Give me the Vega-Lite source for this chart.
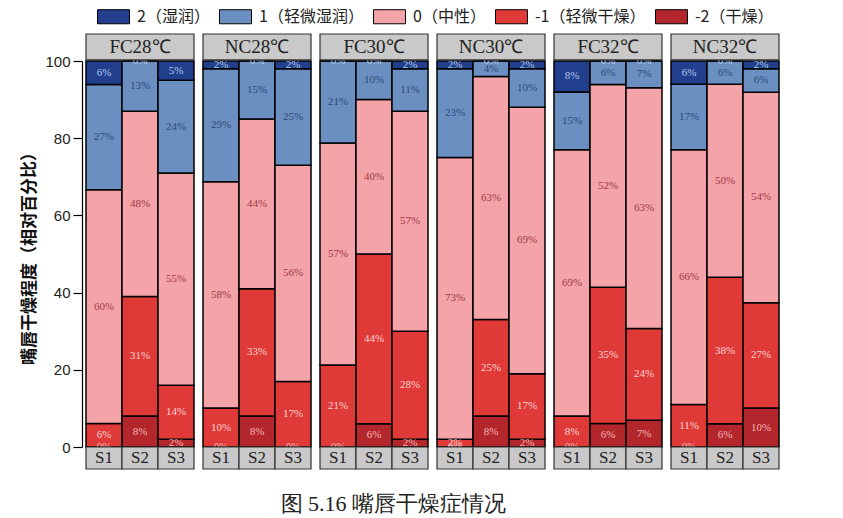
{
  "$schema": "https://vega.github.io/schema/vega-lite/v6.json",
  "description": "Lip dryness scores by group and stage, stacked percentage bars.",
  "padding": {"left": 20, "top": 0, "right": 5, "bottom": 5},
  "title": {
    "text": "图 5.16 嘴唇干燥症情况",
    "orient": "bottom",
    "anchor": "middle",
    "dx": -7,
    "offset": 24,
    "font": "Liberation Serif",
    "fontSize": 22,
    "fontWeight": "normal",
    "color": "#222"
  },
  "datasets": {
    "levels": [
      {"lv": 2, "name": "2（湿润）"},
      {"lv": 1, "name": "1（轻微湿润）"},
      {"lv": 0, "name": "0（中性）"},
      {"lv": -1, "name": "-1（轻微干燥）"},
      {"lv": -2, "name": "-2（干燥）"}
    ]
  },
  "data": {
    "values": [
      {"g": "FC28℃", "s": "S1", "lv": -2, "p": 0},
      {"g": "FC28℃", "s": "S1", "lv": -1, "p": 0.06},
      {"g": "FC28℃", "s": "S1", "lv": 0, "p": 0.60},
      {"g": "FC28℃", "s": "S1", "lv": 1, "p": 0.27},
      {"g": "FC28℃", "s": "S1", "lv": 2, "p": 0.06},
      {"g": "FC28℃", "s": "S2", "lv": -2, "p": 0.08},
      {"g": "FC28℃", "s": "S2", "lv": -1, "p": 0.31},
      {"g": "FC28℃", "s": "S2", "lv": 0, "p": 0.48},
      {"g": "FC28℃", "s": "S2", "lv": 1, "p": 0.13},
      {"g": "FC28℃", "s": "S2", "lv": 2, "p": 0},
      {"g": "FC28℃", "s": "S3", "lv": -2, "p": 0.02},
      {"g": "FC28℃", "s": "S3", "lv": -1, "p": 0.14},
      {"g": "FC28℃", "s": "S3", "lv": 0, "p": 0.55},
      {"g": "FC28℃", "s": "S3", "lv": 1, "p": 0.24},
      {"g": "FC28℃", "s": "S3", "lv": 2, "p": 0.05},
      {"g": "NC28℃", "s": "S1", "lv": -2, "p": 0},
      {"g": "NC28℃", "s": "S1", "lv": -1, "p": 0.10},
      {"g": "NC28℃", "s": "S1", "lv": 0, "p": 0.58},
      {"g": "NC28℃", "s": "S1", "lv": 1, "p": 0.29},
      {"g": "NC28℃", "s": "S1", "lv": 2, "p": 0.02},
      {"g": "NC28℃", "s": "S2", "lv": -2, "p": 0.08},
      {"g": "NC28℃", "s": "S2", "lv": -1, "p": 0.33},
      {"g": "NC28℃", "s": "S2", "lv": 0, "p": 0.44},
      {"g": "NC28℃", "s": "S2", "lv": 1, "p": 0.15},
      {"g": "NC28℃", "s": "S2", "lv": 2, "p": 0},
      {"g": "NC28℃", "s": "S3", "lv": -2, "p": 0},
      {"g": "NC28℃", "s": "S3", "lv": -1, "p": 0.17},
      {"g": "NC28℃", "s": "S3", "lv": 0, "p": 0.56},
      {"g": "NC28℃", "s": "S3", "lv": 1, "p": 0.25},
      {"g": "NC28℃", "s": "S3", "lv": 2, "p": 0.02},
      {"g": "FC30℃", "s": "S1", "lv": -2, "p": 0},
      {"g": "FC30℃", "s": "S1", "lv": -1, "p": 0.21},
      {"g": "FC30℃", "s": "S1", "lv": 0, "p": 0.57},
      {"g": "FC30℃", "s": "S1", "lv": 1, "p": 0.21},
      {"g": "FC30℃", "s": "S1", "lv": 2, "p": 0},
      {"g": "FC30℃", "s": "S2", "lv": -2, "p": 0.06},
      {"g": "FC30℃", "s": "S2", "lv": -1, "p": 0.44},
      {"g": "FC30℃", "s": "S2", "lv": 0, "p": 0.40},
      {"g": "FC30℃", "s": "S2", "lv": 1, "p": 0.10},
      {"g": "FC30℃", "s": "S2", "lv": 2, "p": 0},
      {"g": "FC30℃", "s": "S3", "lv": -2, "p": 0.02},
      {"g": "FC30℃", "s": "S3", "lv": -1, "p": 0.28},
      {"g": "FC30℃", "s": "S3", "lv": 0, "p": 0.57},
      {"g": "FC30℃", "s": "S3", "lv": 1, "p": 0.11},
      {"g": "FC30℃", "s": "S3", "lv": 2, "p": 0.02},
      {"g": "NC30℃", "s": "S1", "lv": -2, "p": 0},
      {"g": "NC30℃", "s": "S1", "lv": -1, "p": 0.02},
      {"g": "NC30℃", "s": "S1", "lv": 0, "p": 0.73},
      {"g": "NC30℃", "s": "S1", "lv": 1, "p": 0.23},
      {"g": "NC30℃", "s": "S1", "lv": 2, "p": 0.02},
      {"g": "NC30℃", "s": "S2", "lv": -2, "p": 0.08},
      {"g": "NC30℃", "s": "S2", "lv": -1, "p": 0.25},
      {"g": "NC30℃", "s": "S2", "lv": 0, "p": 0.63},
      {"g": "NC30℃", "s": "S2", "lv": 1, "p": 0.04},
      {"g": "NC30℃", "s": "S2", "lv": 2, "p": 0},
      {"g": "NC30℃", "s": "S3", "lv": -2, "p": 0.02},
      {"g": "NC30℃", "s": "S3", "lv": -1, "p": 0.17},
      {"g": "NC30℃", "s": "S3", "lv": 0, "p": 0.69},
      {"g": "NC30℃", "s": "S3", "lv": 1, "p": 0.10},
      {"g": "NC30℃", "s": "S3", "lv": 2, "p": 0.02},
      {"g": "FC32℃", "s": "S1", "lv": -2, "p": 0},
      {"g": "FC32℃", "s": "S1", "lv": -1, "p": 0.08},
      {"g": "FC32℃", "s": "S1", "lv": 0, "p": 0.69},
      {"g": "FC32℃", "s": "S1", "lv": 1, "p": 0.15},
      {"g": "FC32℃", "s": "S1", "lv": 2, "p": 0.08},
      {"g": "FC32℃", "s": "S2", "lv": -2, "p": 0.06},
      {"g": "FC32℃", "s": "S2", "lv": -1, "p": 0.35},
      {"g": "FC32℃", "s": "S2", "lv": 0, "p": 0.52},
      {"g": "FC32℃", "s": "S2", "lv": 1, "p": 0.06},
      {"g": "FC32℃", "s": "S2", "lv": 2, "p": 0},
      {"g": "FC32℃", "s": "S3", "lv": -2, "p": 0.07},
      {"g": "FC32℃", "s": "S3", "lv": -1, "p": 0.24},
      {"g": "FC32℃", "s": "S3", "lv": 0, "p": 0.63},
      {"g": "FC32℃", "s": "S3", "lv": 1, "p": 0.07},
      {"g": "FC32℃", "s": "S3", "lv": 2, "p": 0},
      {"g": "NC32℃", "s": "S1", "lv": -2, "p": 0},
      {"g": "NC32℃", "s": "S1", "lv": -1, "p": 0.11},
      {"g": "NC32℃", "s": "S1", "lv": 0, "p": 0.66},
      {"g": "NC32℃", "s": "S1", "lv": 1, "p": 0.17},
      {"g": "NC32℃", "s": "S1", "lv": 2, "p": 0.06},
      {"g": "NC32℃", "s": "S2", "lv": -2, "p": 0.06},
      {"g": "NC32℃", "s": "S2", "lv": -1, "p": 0.38},
      {"g": "NC32℃", "s": "S2", "lv": 0, "p": 0.50},
      {"g": "NC32℃", "s": "S2", "lv": 1, "p": 0.06},
      {"g": "NC32℃", "s": "S2", "lv": 2, "p": 0},
      {"g": "NC32℃", "s": "S3", "lv": -2, "p": 0.10},
      {"g": "NC32℃", "s": "S3", "lv": -1, "p": 0.27},
      {"g": "NC32℃", "s": "S3", "lv": 0, "p": 0.54},
      {"g": "NC32℃", "s": "S3", "lv": 1, "p": 0.06},
      {"g": "NC32℃", "s": "S3", "lv": 2, "p": 0.02}
    ]
  },
  "transform": [
    {"lookup": "lv", "from": {"data": {"name": "levels"}, "key": "lv", "fields": ["name"]}},
    {"stack": "p", "groupby": ["g", "s"], "sort": [{"field": "lv", "order": "ascending"}], "offset": "normalize", "as": ["y0", "y1"]}
  ],
  "facet": {
    "column": {
      "field": "g",
      "type": "nominal",
      "sort": ["FC28℃", "NC28℃", "FC30℃", "NC30℃", "FC32℃", "NC32℃"],
      "header": {"labels": false, "title": null}
    }
  },
  "spacing": 9,
  "bounds": "flush",
  "spec": {
    "width": 108,
    "height": 386,
    "layer": [
      {
        "mark": {"type": "bar", "stroke": "black", "strokeWidth": 1.5},
        "encoding": {
          "x": {"field": "s", "type": "nominal", "axis": null, "scale": {"paddingInner": 0, "paddingOuter": 0}},
          "y": {
            "field": "y0",
            "type": "quantitative",
            "title": "嘴唇干燥程度（相对百分比）",
            "scale": {"domain": [0, 1], "nice": false},
            "axis": {
              "values": [0, 0.1, 0.2, 0.3, 0.4, 0.5, 0.6, 0.7, 0.8, 0.9, 1],
              "labelExpr": "round(datum.value * 100) % 20 === 0 ? format(datum.value * 100, 'd') : ''",
              "tickSize": {"condition": {"test": "round(datum.value * 100) % 20 === 0", "value": 9}, "value": 5},
              "grid": false,
              "offset": 4,
              "domainColor": "black",
              "domainWidth": 1.2,
              "tickColor": "black",
              "tickWidth": 1.2,
              "labelFont": "Liberation Sans",
              "labelFontSize": 15,
              "labelColor": "#222",
              "labelPadding": 3,
              "titleFont": "Noto Sans CJK SC",
              "titleFontSize": 17,
              "titleFontWeight": "bold",
              "titleColor": "#111",
              "titlePadding": 6
            }
          },
          "y2": {"field": "y1"},
          "color": {
            "field": "name",
            "type": "nominal",
            "scale": {
              "domain": ["2（湿润）", "1（轻微湿润）", "0（中性）", "-1（轻微干燥）", "-2（干燥）"],
              "range": ["#213f8c", "#6b8fc0", "#f4a3a8", "#e03a38", "#b3272c"]
            },
            "legend": {
              "orient": "none",
              "legendX": 11,
              "legendY": -61,
              "direction": "horizontal",
              "title": null,
              "symbolType": "M-1,-0.44H1V0.44H-1Z",
              "symbolSize": 1024,
              "symbolStrokeColor": "black",
              "symbolStrokeWidth": 1,
              "symbolOpacity": 1,
              "labelFont": "Noto Sans CJK SC",
              "labelFontSize": 16,
              "labelColor": "#222",
              "labelOffset": 7,
              "columnPadding": 7
            }
          }
        }
      },
      {
        "transform": [
          {"fold": ["y0", "y1"], "as": ["edge", "yv"]},
          {"aggregate": [{"op": "mean", "field": "yv", "as": "ym"}], "groupby": ["g", "s", "lv", "p"]}
        ],
        "mark": {"type": "text", "font": "Liberation Serif", "fontSize": 11},
        "encoding": {
          "x": {"field": "s", "type": "nominal"},
          "y": {"field": "ym", "type": "quantitative", "title": "嘴唇干燥程度（相对百分比）"},
          "text": {"field": "p", "type": "quantitative", "format": ".0%"},
          "fill": {
            "field": "lv",
            "type": "nominal",
            "scale": {"domain": [2, 1, 0, -1, -2], "range": ["#b4c8ec", "#2c4a7a", "#9e3a48", "#fbd2d2", "#f4b4b4"]},
            "legend": null
          }
        }
      },
      {
        "transform": [{"aggregate": [{"op": "count", "as": "n"}], "groupby": ["g"]}],
        "mark": {"type": "rect", "fill": "#c9c9c9", "stroke": "#333", "strokeWidth": 1.2},
        "encoding": {
          "y": {"datum": 1.07, "title": "嘴唇干燥程度（相对百分比）"},
          "y2": {"datum": 1.003}
        }
      },
      {
        "transform": [{"aggregate": [{"op": "count", "as": "n"}], "groupby": ["g"]}],
        "mark": {"type": "text", "font": "Liberation Serif", "fontSize": 19, "color": "#222"},
        "encoding": {
          "y": {"datum": 1.036, "title": "嘴唇干燥程度（相对百分比）"},
          "text": {"field": "g"}
        }
      },
      {
        "transform": [{"aggregate": [{"op": "count", "as": "n"}], "groupby": ["g", "s"]}],
        "mark": {"type": "rect", "fill": "#c9c9c9", "stroke": "#333", "strokeWidth": 1.2},
        "encoding": {
          "x": {"field": "s", "type": "nominal"},
          "y": {"datum": 0, "title": "嘴唇干燥程度（相对百分比）"},
          "y2": {"datum": -0.057}
        }
      },
      {
        "transform": [{"aggregate": [{"op": "count", "as": "n"}], "groupby": ["g", "s"]}],
        "mark": {"type": "text", "font": "Liberation Serif", "fontSize": 17, "color": "#222"},
        "encoding": {
          "x": {"field": "s", "type": "nominal"},
          "y": {"datum": -0.029, "title": "嘴唇干燥程度（相对百分比）"},
          "text": {"field": "s"}
        }
      }
    ]
  },
  "config": {
    "view": {"stroke": null}
  }
}
